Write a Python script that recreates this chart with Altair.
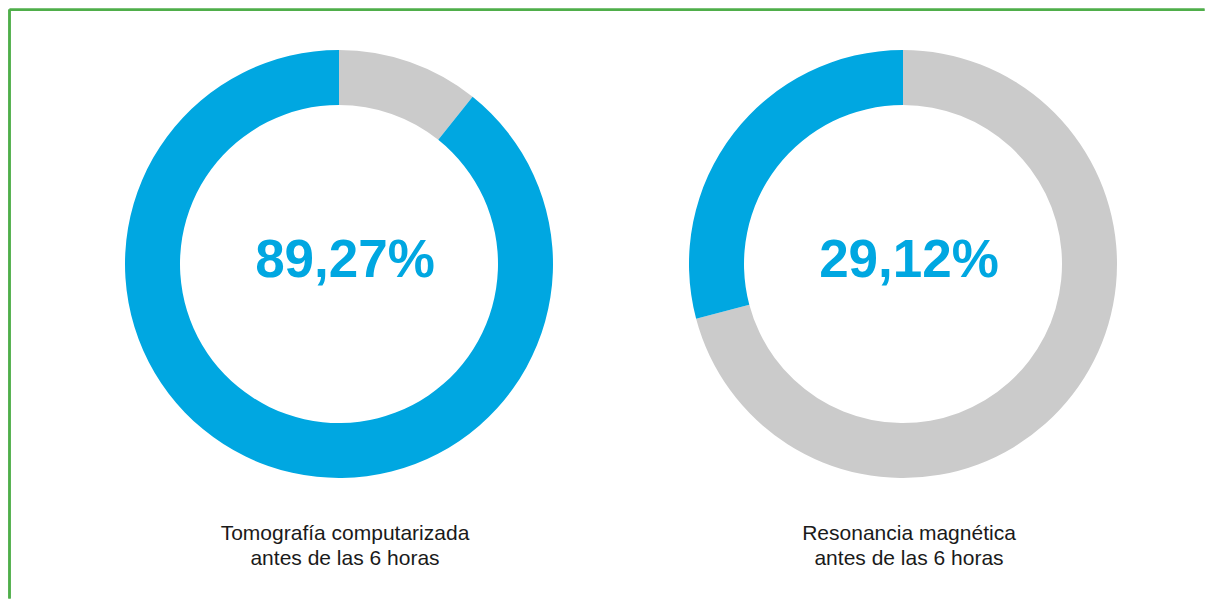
import altair as alt
import pandas as pd

# Data
captions = ["Tomografía computarizada\nantes de las 6 horas",
            "Resonancia magnética\nantes de las 6 horas"]
percent = [89.27, 29.12]
big_labels = ["89,27%", "29,12%"]

rows = []
for i, (cap, p) in enumerate(zip(captions, percent)):
    rows.append({"donut": i, "part": "resto", "value": round(100 - p, 2), "ord": 0})
    rows.append({"donut": i, "part": "antes", "value": p, "ord": 1})
df = pd.DataFrame(rows)
lab = pd.DataFrame({"donut": [0, 1], "big": big_labels, "cap": captions})

W, H = 1198, 592
centers_x = [331, 895]
cy = 256
BLUE = "#00a7e1"
GRAY = "#cbcbcb"
FONT = "Liberation Sans"

layers = []
for i, cx in enumerate(centers_x):
    layers.append(
        alt.Chart(df).transform_filter(alt.datum.donut == i)
        .mark_arc(outerRadius=214, innerRadius=159)
        .encode(
            theta=alt.Theta("value:Q", stack=True),
            color=alt.Color("part:N", scale=alt.Scale(domain=["resto", "antes"], range=[GRAY, BLUE]), legend=None),
            order=alt.Order("ord:Q"),
            x=alt.value(cx), y=alt.value(cy),
        )
    )
    layers.append(
        alt.Chart(lab).transform_filter(alt.datum.donut == i)
        .mark_text(font=FONT, fontSize=53, fontWeight="bold", color=BLUE, align="center", baseline="alphabetic")
        .encode(text="big:N", x=alt.value(cx + 6), y=alt.value(269))
    )
    layers.append(
        alt.Chart(lab).transform_filter(alt.datum.donut == i)
        .transform_calculate(lines="split(datum.cap, '\\n')")
        .mark_text(font=FONT, fontSize=21, color="#1a1a1a", align="center", baseline="alphabetic", lineHeight=25)
        .encode(text="lines:N", x=alt.value(cx + 6), y=alt.value(532))
    )

GREEN = "#4fae4a"
border_top = alt.Chart(lab).mark_rule(color=GREEN, strokeWidth=2.5).encode(
    x=alt.value(1.5), x2=alt.value(W - 1.5), y=alt.value(1.7))
border_left = alt.Chart(lab).mark_rule(color=GREEN, strokeWidth=2.5).encode(
    x=alt.value(1.5), y=alt.value(1.5), y2=alt.value(H - 1.5))

chart = alt.layer(border_top, border_left, *layers).properties(
    width=W, height=H, padding=0,
    autosize=alt.AutoSizeParams(type="fit", contains="padding"),
    background="white",
).configure_view(stroke=None)

chart.save("out.html", embed_options={"renderer": "svg", "actions": False})
